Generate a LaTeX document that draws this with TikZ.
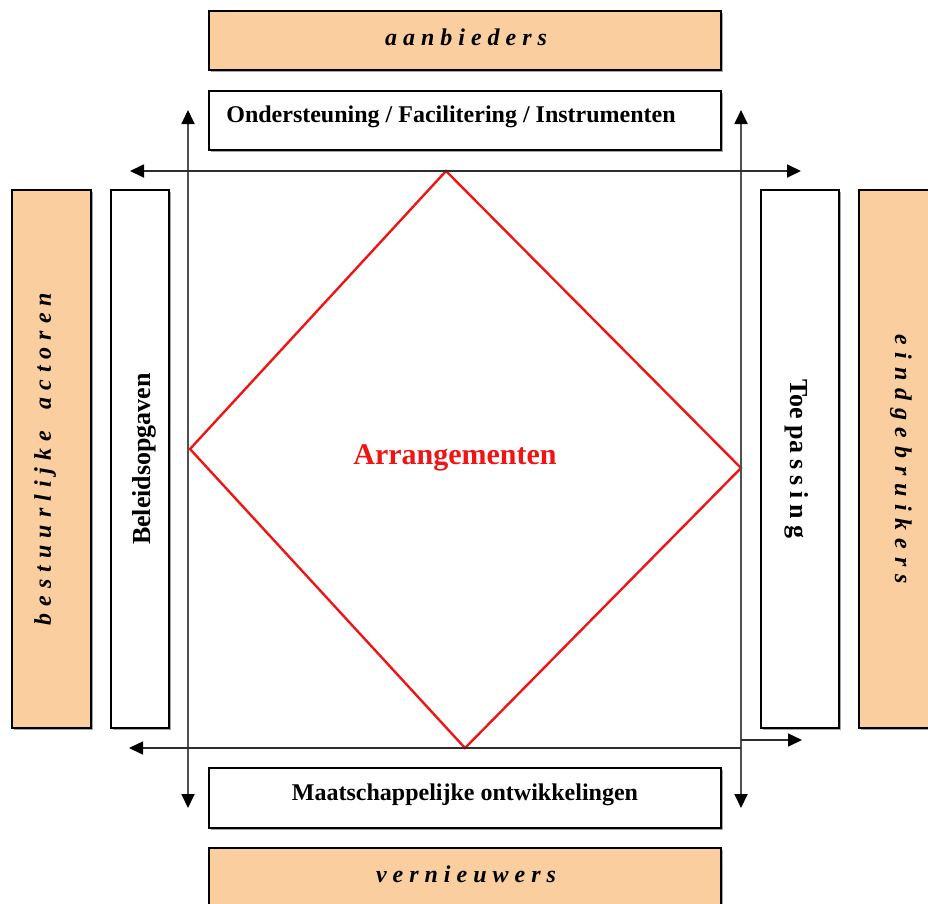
\documentclass[tikz,border=0pt]{standalone}
\usepackage{fontspec}
\setmainfont{Liberation Serif}
\usetikzlibrary{arrows.meta,shadows}
\definecolor{peach}{RGB}{250,206,158}
\definecolor{arrowgray}{RGB}{45,45,45}
\definecolor{vgray}{RGB}{80,80,80}
\definecolor{diamondred}{RGB}{240,20,20}
\begin{document}
\begin{tikzpicture}[x=1pt,y=-1pt,
  box/.style={draw=black, line width=1.2pt, inner sep=0pt,
    drop shadow={shadow xshift=1.6pt, shadow yshift=-1.6pt, fill=black!35, opacity=1}},
  peachbox/.style={box, fill=peach},
  whitebox/.style={box, fill=white},
  plain/.style={font=\fontsize{24}{28}\selectfont\bfseries, inner sep=0pt},
  spaced/.style={font=\fontsize{24}{28}\selectfont\bfseries\itshape, inner sep=0pt},
  tip/.tip={Triangle[length=14pt,width=13pt,color=black]},
  arr/.style={draw=arrowgray, line width=1.5pt, -tip},
  darr/.style={draw=#1, line width=1.8pt, tip-tip},
  darr/.default=arrowgray
]
\useasboundingbox (0,0) rectangle (928,903);

% top and bottom boxes
\node[peachbox, minimum width=512pt, minimum height=59pt] (aan) at (465,40.5) {};
\node[whitebox, minimum width=512pt, minimum height=59pt] (ond) at (465,120.5) {};
\node[whitebox, minimum width=512pt, minimum height=60pt] (maa) at (465,798) {};
\node[peachbox, minimum width=512pt, minimum height=70pt] (ver) at (465,883) {};

% side boxes
\node[peachbox, minimum width=79pt, minimum height=538pt] (bes) at (51.5,459) {};
\node[whitebox, minimum width=58pt, minimum height=538pt] (bel) at (140,459) {};
\node[whitebox, minimum width=78pt, minimum height=538pt] (toe) at (800,459) {};
\node[peachbox, minimum width=90pt, minimum height=538pt] (ein) at (904,459) {};

% labels
\node[spaced] (taan) at (466,37) {a a n b i e d e r s};
\node[plain] (tond) at (451,117) {Ondersteuning / Facilitering / Instrumenten};
\node[plain] (tmaa) at (465,795) {Maatschappelijke ontwikkelingen};
\node[spaced] (tver) at (466,874) {v e r n i e u w e r s};
\node[spaced, rotate=90] (tbes) at (45,459) {\spaceskip=7pt b e s t u u r l i j k e\hspace{0.6em} a c t o r e n};
\node[plain, rotate=90, font=\fontsize{26}{30}\selectfont\bfseries] (tbel) at (144,459) {Beleidsopgaven};
\node[plain, rotate=-90, font=\fontsize{26}{30}\selectfont\bfseries] (ttoe) at (797,459) {Toe pa\hspace{6pt}s\hspace{6pt}s\hspace{6pt}i\hspace{6pt}n\hspace{6pt}g};
\node[spaced, rotate=-90] (tein) at (901,459) {\spaceskip=7.8pt e i n d g e b r u i k e r s};

% diamond
\coordinate (dT) at (446,171);
\coordinate (dR) at (741,468);
\coordinate (dB) at (465,748);
\coordinate (dL) at (190,449);
\draw[diamondred, line width=2.4pt, line join=miter] (dT) -- (dR) -- (dB) -- (dL) -- cycle;
\node[font=\fontsize{30}{34}\selectfont\bfseries, text=diamondred, inner sep=0pt] (arrg) at (455,458) {Arrangementen};

% arrows
\coordinate (lvT) at (188,110);
\coordinate (lvB) at (188,808);
\coordinate (rvT) at (741,110);
\coordinate (rvB) at (741,808);
\coordinate (thL) at (130,171);
\coordinate (thR) at (801,171);
\coordinate (bhL) at (129,748);
\coordinate (bhR) at (741,748);
\coordinate (shL) at (741,740);
\coordinate (shR) at (802,740);
\draw[darr=vgray] (lvB) -- (lvT);
\draw[darr=vgray] (rvB) -- (rvT);
\draw[darr] (thL) -- (thR);
\draw[arr] (bhR) -- (bhL);
\draw[arr] (shL) -- (shR);
\end{tikzpicture}
\end{document}
